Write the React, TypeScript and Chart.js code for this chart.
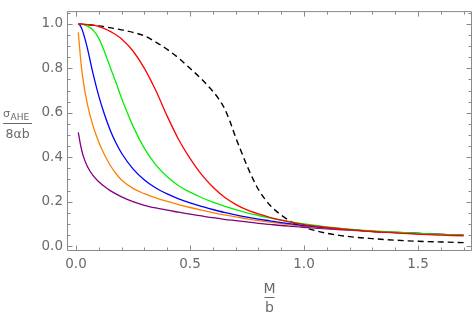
import React, { useEffect, useRef } from "react";
import { Chart, registerables } from "chart.js";
Chart.register(...registerables);

const X_GRID = [0.01, 0.02, 0.03, 0.05, 0.075, 0.1, 0.125, 0.15, 0.175, 0.2, 0.25, 0.3, 0.35, 0.4, 0.45, 0.5, 0.55, 0.6, 0.65, 0.7, 0.75, 0.8, 0.85, 0.9, 0.95, 1.0, 1.1, 1.2, 1.3, 1.4, 1.5, 1.6, 1.7];

const RED = [1.0, 0.9995, 0.999, 0.997, 0.994, 0.988, 0.979, 0.966, 0.951, 0.932, 0.878, 0.8, 0.7, 0.585, 0.48, 0.395, 0.323, 0.266, 0.221, 0.188, 0.163, 0.145, 0.13, 0.117, 0.106, 0.097, 0.084, 0.074, 0.066, 0.06, 0.054, 0.05, 0.046];
const GREEN = [1.0, 0.999, 0.997, 0.99, 0.972, 0.935, 0.875, 0.805, 0.737, 0.665, 0.54, 0.44, 0.366, 0.312, 0.272, 0.243, 0.219, 0.198, 0.18, 0.164, 0.15, 0.138, 0.127, 0.117, 0.108, 0.1, 0.087, 0.077, 0.069, 0.063, 0.058, 0.053, 0.049];
const BLUE = [1.0, 0.99, 0.965, 0.89, 0.775, 0.675, 0.592, 0.522, 0.465, 0.418, 0.348, 0.298, 0.262, 0.235, 0.213, 0.195, 0.179, 0.165, 0.152, 0.141, 0.131, 0.122, 0.114, 0.106, 0.099, 0.093, 0.082, 0.074, 0.067, 0.062, 0.057, 0.053, 0.049];
const ORANGE = [0.962, 0.845, 0.755, 0.638, 0.54, 0.468, 0.411, 0.364, 0.327, 0.298, 0.26, 0.236, 0.217, 0.201, 0.187, 0.174, 0.162, 0.151, 0.141, 0.132, 0.123, 0.115, 0.108, 0.101, 0.095, 0.09, 0.081, 0.073, 0.067, 0.062, 0.057, 0.053, 0.049];
const PURPLE = [0.512, 0.455, 0.412, 0.358, 0.317, 0.29, 0.268, 0.25, 0.235, 0.222, 0.2, 0.184, 0.172, 0.162, 0.153, 0.144, 0.136, 0.128, 0.121, 0.115, 0.109, 0.103, 0.098, 0.093, 0.089, 0.085, 0.078, 0.072, 0.066, 0.061, 0.057, 0.053, 0.05];

const DASHED_X = [0.01, 0.1, 0.2, 0.25, 0.3, 0.35, 0.4, 0.45, 0.5, 0.55, 0.6, 0.625, 0.65, 0.675, 0.7, 0.725, 0.75, 0.775, 0.8, 0.85, 0.9, 0.95, 1.0, 1.1, 1.2, 1.3, 1.4, 1.5, 1.6, 1.7];
const DASHED = [1.0, 0.991, 0.973, 0.962, 0.946, 0.918, 0.885, 0.846, 0.8, 0.752, 0.697, 0.664, 0.622, 0.562, 0.49, 0.425, 0.362, 0.305, 0.255, 0.185, 0.14, 0.107, 0.085, 0.058, 0.043, 0.034, 0.027, 0.022, 0.019, 0.016];

const X_TICKS = [0.0, 0.5, 1.0, 1.5];
const X_TICK_LABELS = ["0.0", "0.5", "1.0", "1.5"];
const Y_TICKS = [0.0, 0.2, 0.4, 0.6, 0.8, 1.0];
const Y_TICK_LABELS = ["0.0", "0.2", "0.4", "0.6", "0.8", "1.0"];

const X_MIN = -0.0395;
const X_MAX = 1.7368;
const Y_MIN = -0.0172;
const Y_MAX = 1.053;

const TEXT = "#6a6a6a";
const FRAME = "#8a8a8a";
const FONT = "'DejaVu Sans', sans-serif";

const pts = (xs: number[], ys: number[]) => xs.map((x, i) => ({ x, y: ys[i] }));

const framePlugin = {
  id: "frameTicks",
  afterDraw(chart: any) {
    const { ctx, chartArea } = chart;
    const { left, right, top, bottom } = chartArea;
    const xs = chart.scales.x;
    const ys = chart.scales.y;
    ctx.save();
    ctx.strokeStyle = FRAME;
    ctx.lineWidth = 1;
    const L = left + 0.5, R = right - 0.5, T = top - 0.5, B = bottom + 0.5;
    ctx.beginPath();
    ctx.moveTo(L, T); ctx.lineTo(R, T); ctx.lineTo(R, B); ctx.lineTo(L, B); ctx.closePath();
    ctx.stroke();
    ctx.beginPath();
    for (let k = 0; k <= 17; k++) {
      const v = k / 10;
      const len = k % 5 === 0 ? 5 : 3;
      const px = Math.round(xs.getPixelForValue(v)) + 0.5;
      ctx.moveTo(px, B); ctx.lineTo(px, B - len);
      ctx.moveTo(px, T); ctx.lineTo(px, T + len);
    }
    for (let k = 0; k <= 21; k++) {
      const v = k / 20;
      const len = k % 4 === 0 ? 5 : 3;
      const py = Math.round(ys.getPixelForValue(v)) + 0.5;
      ctx.moveTo(L, py); ctx.lineTo(L + len, py);
      ctx.moveTo(R, py); ctx.lineTo(R - len, py);
    }
    ctx.stroke();

    // y-axis title: sigma_AHE / (8 alpha b)
    ctx.fillStyle = TEXT;
    ctx.strokeStyle = TEXT;
    ctx.textBaseline = "alphabetic";
    ctx.textAlign = "left";
    ctx.font = `11px ${FONT}`;
    ctx.fillText("σ", 3, 116.5);
    ctx.font = `9px ${FONT}`;
    ctx.fillText("AHE", 10.5, 120);
    ctx.beginPath();
    ctx.moveTo(3, 123.5); ctx.lineTo(32, 123.5);
    ctx.stroke();
    ctx.textAlign = "center";
    ctx.font = `12.5px ${FONT}`;
    ctx.fillText("8αb", 17.5, 137.5);

    // x-axis title: M / b
    const cx = (left + right) / 2;
    ctx.font = `14px ${FONT}`;
    ctx.fillText("M", cx, 293);
    ctx.beginPath();
    ctx.moveTo(cx - 5, 297.5); ctx.lineTo(cx + 5, 297.5);
    ctx.stroke();
    ctx.fillText("b", cx, 311.5);
    ctx.restore();
  },
};

export default function App() {
  const ref = useRef<HTMLCanvasElement | null>(null);
  useEffect(() => {
    if (!ref.current) return;
    const base = { pointRadius: 0, borderWidth: 1.3, fill: false, cubicInterpolationMode: "monotone" as const };
    const chart = new Chart(ref.current, {
      type: "line",
      data: {
        datasets: [
          { ...base, label: "red", data: pts(X_GRID, RED), borderColor: "#ff0000" },
          { ...base, label: "green", data: pts(X_GRID, GREEN), borderColor: "#00f000" },
          { ...base, label: "blue", data: pts(X_GRID, BLUE), borderColor: "#0000ff" },
          { ...base, label: "orange", data: pts(X_GRID, ORANGE), borderColor: "#ff8000" },
          { ...base, label: "purple", data: pts(X_GRID, PURPLE), borderColor: "#800080" },
          { ...base, label: "dashed", data: pts(DASHED_X, DASHED), borderColor: "#000000", borderDash: [6, 4], borderWidth: 1.4 },
        ],
      },
      options: {
        animation: false,
        responsive: true,
        maintainAspectRatio: false,
        layout: { padding: { top: 1, right: 1, left: 0, bottom: 0 } },
        plugins: { legend: { display: false }, tooltip: { enabled: false } },
        scales: {
          x: {
            type: "linear",
            min: X_MIN,
            max: X_MAX,
            grid: { display: false, drawTicks: false },
            border: { display: false },
            afterBuildTicks: (s: any) => { s.ticks = X_TICKS.map((v) => ({ value: v })); },
            afterFit: (s: any) => { s.height = 65; },
            ticks: {
              padding: 6,
              color: TEXT,
              font: { family: FONT, size: 13.5 },
              maxRotation: 0,
              autoSkip: false,
              callback: (v: any) => { const i = X_TICKS.indexOf(Number(v)); return i >= 0 ? X_TICK_LABELS[i] : ""; },
            },
          },
          y: {
            type: "linear",
            min: Y_MIN,
            max: Y_MAX,
            grid: { display: false, drawTicks: false },
            border: { display: false },
            afterBuildTicks: (s: any) => { s.ticks = Y_TICKS.map((v) => ({ value: v })); },
            afterFit: (s: any) => { s.width = 67; },
            ticks: {
              padding: 4,
              color: TEXT,
              font: { family: FONT, size: 13.5 },
              autoSkip: false,
              callback: (v: any) => { const i = Y_TICKS.indexOf(Number(v)); return i >= 0 ? Y_TICK_LABELS[i] : ""; },
            },
          },
        },
      },
      plugins: [framePlugin],
    });
    return () => chart.destroy();
  }, []);
  return (
    <div style={{ position: "absolute", left: 0, top: 0, width: 473, height: 315 }}>
      <canvas ref={ref} />
    </div>
  );
}
